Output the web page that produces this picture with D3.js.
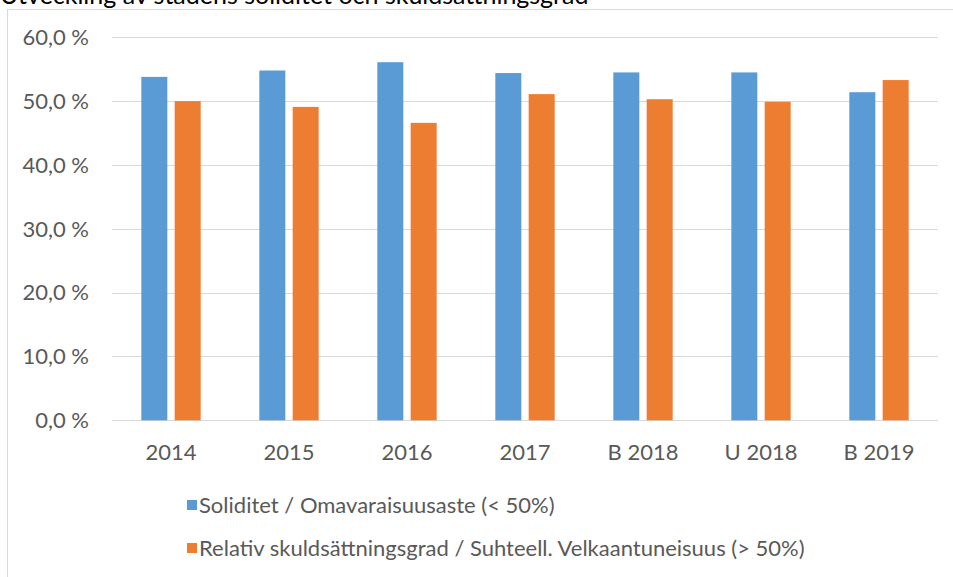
<!DOCTYPE html>
<html>
<head>
<meta charset="utf-8">
<script src="https://cdn.jsdelivr.net/npm/d3@7"></script>
<style>
  body { margin: 0; background: #fff; }
  svg { display: block; font-family: Lato, "Open Sans", sans-serif; }
  .grid line { stroke: #d9d9d9; stroke-width: 1; }
  .axis text { fill: #595959; }
</style>
</head>
<body>
<div id="chart"></div>
<script>
var categories = ["2014", "2015", "2016", "2017", "B 2018", "U 2018", "B 2019"]
var seriesNames = ["Soliditet / Omavaraisuusaste (< 50%)",
                   "Relativ skuldsättningsgrad / Suhteell. Velkaantuneisuus (> 50%)"]
var soliditet = [53.8, 54.8, 56.1, 54.4, 54.5, 54.5, 51.4]
var skuldsattning = [50.0, 49.1, 46.6, 51.1, 50.3, 49.9, 53.3]
var yTicks = [0, 10, 20, 30, 40, 50, 60]
var colors = ["#5b9bd5", "#ed7d31"]

var W = 953, H = 577
var plot = {left: 112, right: 938, top: 37.3, bottom: 420.3}
var fontSize = "22px"

var svg = d3.select("#chart").append("svg")
  .attr("width", W)
  .attr("height", H)

// chart frame (runs past the window on the right and bottom, as in the screenshot)
svg.append("rect")
  .attr("x", 7.5).attr("y", 9.5)
  .attr("width", 960).attr("height", 600)
  .attr("fill", "#fff")
  .attr("stroke", "#d9d9d9")

svg.append("text")
  .attr("x", 0).attr("y", 4)
  .attr("fill", "#000")
  .style("font-size", "25px")
  .text("Utveckling av stadens soliditet och skuldsättningsgrad")

var y = d3.scaleLinear().domain([0, 60]).range([plot.bottom, plot.top])

var x0 = d3.scaleBand()
  .domain(categories)
  .range([plot.left, plot.right])
  .paddingInner(0.497)
  .paddingOuter(0.2485)

var x1 = d3.scaleBand()
  .domain([0, 1])
  .range([0, x0.bandwidth()])
  .paddingInner(0.22)

// gridlines
svg.append("g")
  .attr("class", "grid")
  .selectAll("line")
  .data(yTicks)
  .join("line")
    .attr("x1", plot.left)
    .attr("x2", plot.right)
    .attr("y1", d => Math.round(y(d)) + 0.5)
    .attr("y2", d => Math.round(y(d)) + 0.5)

// y axis labels
svg.append("g")
  .attr("class", "axis")
  .selectAll("text")
  .data(yTicks)
  .join("text")
    .attr("x", 89)
    .attr("y", d => y(d))
    .attr("dy", "0.35em")
    .attr("text-anchor", "end")
    .style("font-size", fontSize)
    .text(d => d3.format(".1f")(d).replace(".", ",") + " %")

// bars
var rows = categories.map(function(c, i){
  return {cat: c, values: [soliditet[i], skuldsattning[i]]}
})

var groups = svg.append("g")
  .selectAll("g")
  .data(rows)
  .join("g")
    .attr("transform", d => "translate(" + x0(d.cat) + ",0)")

groups.selectAll("rect")
  .data(d => d.values.map((v, s) => ({s: s, v: v})))
  .join("rect")
    .attr("x", d => x1(d.s))
    .attr("width", x1.bandwidth())
    .attr("y", d => y(d.v))
    .attr("height", d => y(0) - y(d.v))
    .attr("fill", d => colors[d.s])

// x axis labels
svg.append("g")
  .attr("class", "axis")
  .selectAll("text")
  .data(categories)
  .join("text")
    .attr("x", d => x0(d) + x0.bandwidth() / 2)
    .attr("y", 452)
    .attr("dy", "0.35em")
    .attr("text-anchor", "middle")
    .style("font-size", fontSize)
    .text(d => d)

// legend
var legend = svg.append("g")
  .attr("class", "axis")
  .selectAll("g")
  .data(seriesNames)
  .join("g")
    .attr("transform", (d, i) => "translate(187," + (505 + i * 43) + ")")

legend.append("rect")
  .attr("x", 0).attr("y", -5)
  .attr("width", 10).attr("height", 10)
  .attr("fill", (d, i) => colors[i])

legend.append("text")
  .attr("x", 12)
  .attr("dy", "0.35em")
  .style("font-size", fontSize)
  .text(d => d)
</script>
</body>
</html>
